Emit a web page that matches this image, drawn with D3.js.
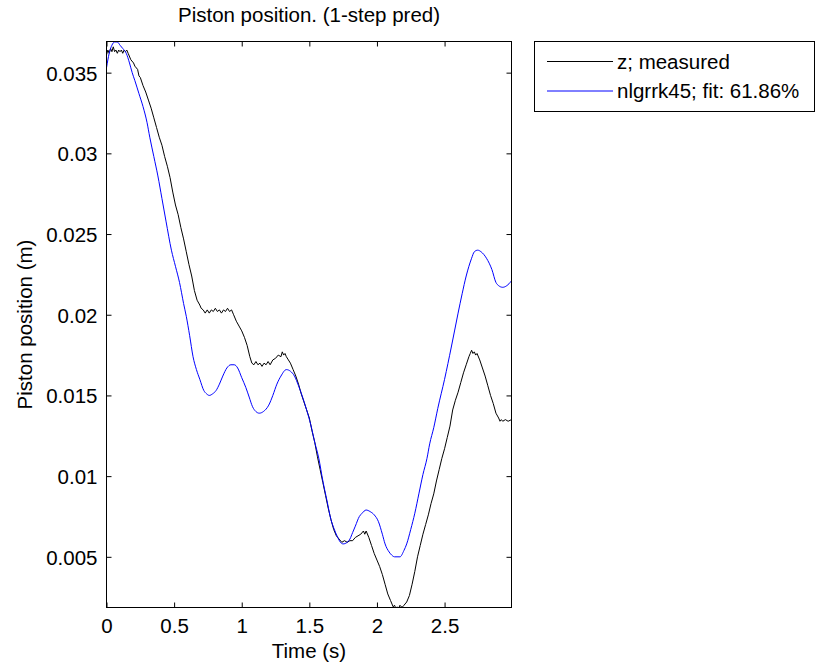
<!DOCTYPE html>
<html lang="en">
<head>
    <meta charset="UTF-8">
    <title>Piston position. (1-step pred)</title>
    <style>
        body {
            margin: 0;
            padding: 0;
            background: #fff;
        }
        svg text {
            font-family: Arial, "Liberation Sans", Helvetica, sans-serif;
            font-size: 20.5px;
            fill: #000;
        }
    </style>
</head>
<body>
    <div id="chart"></div>

    <script src="https://cdnjs.cloudflare.com/ajax/libs/d3/7.8.5/d3.min.js"></script>
    <script>
        // measured piston position
        const measuredTime = [
            0.000, 0.010, 0.020, 0.030, 0.040, 0.050, 0.060, 0.070, 0.080, 0.090,
            0.100, 0.110, 0.120, 0.130, 0.140, 0.150, 0.160, 0.180, 0.200, 0.210,
            0.230, 0.240, 0.250, 0.270, 0.290, 0.310, 0.330, 0.350, 0.370, 0.390,
            0.410, 0.430, 0.450, 0.470, 0.490, 0.510, 0.530, 0.550, 0.570, 0.590,
            0.610, 0.630, 0.650, 0.670, 0.690, 0.700, 0.715, 0.730, 0.745, 0.760,
            0.775, 0.790, 0.805, 0.820, 0.835, 0.850, 0.865, 0.880, 0.895, 0.910,
            0.925, 0.940, 0.960, 0.980, 1.000, 1.020, 1.040, 1.060, 1.075, 1.090,
            1.105, 1.120, 1.135, 1.150, 1.165, 1.180, 1.195, 1.210, 1.230, 1.250,
            1.270, 1.290, 1.300, 1.310, 1.320, 1.330, 1.345, 1.360, 1.380, 1.400,
            1.420, 1.440, 1.460, 1.480, 1.500, 1.520, 1.540, 1.560, 1.580, 1.600,
            1.620, 1.640, 1.660, 1.680, 1.700, 1.720, 1.740, 1.760, 1.780, 1.800,
            1.820, 1.840, 1.860, 1.880, 1.900, 1.910, 1.920, 1.940, 1.960, 1.980,
            2.000, 2.020, 2.040, 2.060, 2.080, 2.100, 2.120, 2.130, 2.140, 2.150,
            2.160, 2.170, 2.180, 2.190, 2.200, 2.220, 2.240, 2.260, 2.280, 2.300,
            2.320, 2.340, 2.360, 2.380, 2.400, 2.420, 2.440, 2.460, 2.480, 2.500,
            2.520, 2.540, 2.560, 2.580, 2.600, 2.620, 2.640, 2.660, 2.680, 2.690,
            2.700, 2.710, 2.720, 2.730, 2.740, 2.760, 2.780, 2.800, 2.820, 2.840,
            2.860, 2.880, 2.900, 2.910, 2.920, 2.930, 2.950, 2.970, 2.995
        ];
        const measuredZ = [
            0.0361, 0.0364, 0.0362, 0.0365, 0.0363, 0.0366, 0.0363, 0.0364, 0.0362, 0.0364,
            0.0363, 0.0364, 0.0362, 0.0364, 0.0363, 0.0364, 0.0362, 0.0358, 0.0356, 0.0354,
            0.0352, 0.0348, 0.0347, 0.0342, 0.0338, 0.0333, 0.0328, 0.0322, 0.0316, 0.0310,
            0.0305, 0.0298, 0.0292, 0.0285, 0.0276, 0.0268, 0.0262, 0.0254, 0.0247, 0.0239,
            0.0231, 0.0224, 0.0215, 0.0209, 0.0206, 0.0204, 0.0203, 0.0201, 0.0203, 0.0201,
            0.0203, 0.0202, 0.0204, 0.0202, 0.0203, 0.0201, 0.0203, 0.0202, 0.0204, 0.0202,
            0.0203, 0.0200, 0.0196, 0.0193, 0.0190, 0.0186, 0.0181, 0.0174, 0.0170, 0.0169,
            0.0171, 0.0169, 0.0170, 0.0168, 0.0170, 0.0169, 0.0171, 0.0169, 0.0172, 0.0173,
            0.0175, 0.0174, 0.0177, 0.0175, 0.0176, 0.0174, 0.0172, 0.0170, 0.0166, 0.0162,
            0.0157, 0.0151, 0.0146, 0.0141, 0.0136, 0.0128, 0.0121, 0.0112, 0.0104, 0.0096,
            0.0088, 0.0080, 0.0073, 0.0067, 0.0063, 0.0061, 0.0059, 0.0060, 0.0059, 0.0060,
            0.0060, 0.0062, 0.0063, 0.0064, 0.0066, 0.0064, 0.0066, 0.0062, 0.0057, 0.0052,
            0.0048, 0.0044, 0.0039, 0.0033, 0.0027, 0.0023, 0.0019, 0.0020, 0.0018, 0.0019,
            0.0018, 0.0020, 0.0019, 0.0019, 0.0020, 0.0022, 0.0026, 0.0033, 0.0041, 0.0050,
            0.0057, 0.0064, 0.0070, 0.0076, 0.0083, 0.0089, 0.0097, 0.0104, 0.0111, 0.0117,
            0.0124, 0.0131, 0.0141, 0.0147, 0.0152, 0.0158, 0.0164, 0.0169, 0.0174, 0.0176,
            0.0178, 0.0176, 0.0177, 0.0175, 0.0176, 0.0172, 0.0167, 0.0162, 0.0156, 0.0150,
            0.0145, 0.0139, 0.0136, 0.0134, 0.0135, 0.0134, 0.0135, 0.0134, 0.0135
        ];

        // nlgrrk45 model, 1-step prediction
        const predTime = [
            0.000, 0.020, 0.040, 0.060, 0.080, 0.100, 0.120, 0.146, 0.170, 0.190,
            0.210, 0.240, 0.270, 0.300, 0.320, 0.350, 0.380, 0.410, 0.440, 0.480,
            0.510, 0.540, 0.570, 0.590, 0.615, 0.640, 0.665, 0.690, 0.720, 0.740,
            0.760, 0.785, 0.810, 0.835, 0.860, 0.890, 0.920, 0.945, 0.970, 1.000,
            1.030, 1.055, 1.080, 1.105, 1.130, 1.160, 1.200, 1.230, 1.260, 1.290,
            1.330, 1.360, 1.390, 1.420, 1.450, 1.480, 1.510, 1.540, 1.570, 1.600,
            1.630, 1.660, 1.680, 1.710, 1.730, 1.750, 1.780, 1.800, 1.820, 1.840,
            1.870, 1.890, 1.920, 1.950, 1.980, 2.010, 2.040, 2.060, 2.090, 2.110,
            2.130, 2.170, 2.200, 2.220, 2.250, 2.280, 2.310, 2.340, 2.370, 2.390,
            2.420, 2.450, 2.500, 2.550, 2.600, 2.630, 2.660, 2.700, 2.720, 2.745,
            2.770, 2.810, 2.850, 2.880, 2.900, 2.930, 2.960, 2.995
        ];
        const predZ = [
            0.0353, 0.0362, 0.0367, 0.0369, 0.0369, 0.0367, 0.0365, 0.0362, 0.0356, 0.0350,
            0.0345, 0.0337, 0.0329, 0.0319, 0.0310, 0.0298, 0.0286, 0.0272, 0.0258, 0.0240,
            0.0230, 0.0220, 0.0207, 0.0199, 0.0187, 0.0174, 0.0166, 0.0160, 0.0153, 0.0151,
            0.0150, 0.0151, 0.0153, 0.0157, 0.0162, 0.0167, 0.0169, 0.0169, 0.0167, 0.0161,
            0.0155, 0.0149, 0.0143, 0.0140, 0.0139, 0.0140, 0.0144, 0.0150, 0.0157, 0.0162,
            0.0166, 0.0165, 0.0162, 0.0156, 0.0149, 0.0141, 0.0132, 0.0121, 0.0111, 0.0097,
            0.0085, 0.0073, 0.0068, 0.0062, 0.0059, 0.0058, 0.0059, 0.0061, 0.0065, 0.0069,
            0.0075, 0.0077, 0.0079, 0.0078, 0.0076, 0.0072, 0.0064, 0.0058, 0.0053, 0.0051,
            0.0050, 0.0050, 0.0054, 0.0058, 0.0067, 0.0077, 0.0089, 0.0101, 0.0111, 0.0120,
            0.0130, 0.0142, 0.0160, 0.0180, 0.0201, 0.0213, 0.0224, 0.0235, 0.0239, 0.0240,
            0.0239, 0.0235, 0.0228, 0.0220, 0.0218, 0.0217, 0.0218, 0.0221
        ];

        const xTicks = [0, 0.5, 1, 1.5, 2, 2.5];
        const yTicks = [0.005, 0.01, 0.015, 0.02, 0.025, 0.03, 0.035];
        const legendLabels = ["z; measured", "nlgrrk45; fit: 61.86%"];
        const seriesColors = ["#000000", "#0000ff"];

        const width = 817;
        const height = 670;
        const plot = { left: 106.5, right: 511.5, top: 41.5, bottom: 607.5 };
        const tickLen = 5;

        const svg = d3.select("#chart")
            .append("svg")
            .attr("width", width)
            .attr("height", height);

        const x = d3.scaleLinear()
            .domain([0, 2.995])
            .range([plot.left, plot.right]);

        const y = d3.scaleLinear()
            .domain([0.00186, 0.03693])
            .range([plot.bottom, plot.top]);

        svg.append("defs").append("clipPath")
            .attr("id", "plot-clip")
            .append("rect")
            .attr("x", plot.left)
            .attr("y", plot.top)
            .attr("width", plot.right - plot.left)
            .attr("height", plot.bottom - plot.top);

        // curves
        const line = d3.line()
            .x(d => x(d[0]))
            .y(d => y(d[1]));

        const series = [
            d3.zip(measuredTime, measuredZ),
            d3.zip(predTime, predZ)
        ];

        const lines = svg.append("g").attr("clip-path", "url(#plot-clip)");
        lines.append("path")
            .attr("d", line(series[0]))
            .attr("fill", "none")
            .attr("stroke", seriesColors[0])
            .attr("stroke-width", 1);
        lines.append("path")
            .attr("d", line.curve(d3.curveMonotoneX)(series[1]))
            .attr("fill", "none")
            .attr("stroke", seriesColors[1])
            .attr("stroke-width", 1);

        // axes box with inward ticks on all four sides
        const bottomAxis = d3.axisBottom(x).tickValues(xTicks).tickSize(-tickLen).tickPadding(11).tickFormat(d3.format("~g"));
        const topAxis = d3.axisTop(x).tickValues(xTicks).tickSize(-tickLen).tickFormat("");
        const leftAxis = d3.axisLeft(y).tickValues(yTicks).tickSize(-tickLen).tickPadding(9).tickFormat(d3.format("~g"));
        const rightAxis = d3.axisRight(y).tickValues(yTicks).tickSize(-tickLen).tickFormat("");

        const gx = svg.append("g").attr("transform", `translate(0,${plot.bottom})`).call(bottomAxis);
        svg.append("g").attr("transform", `translate(0,${plot.top})`).call(topAxis);
        const gy = svg.append("g").attr("transform", `translate(${plot.left},0)`).call(leftAxis);
        svg.append("g").attr("transform", `translate(${plot.right},0)`).call(rightAxis);

        svg.selectAll(".domain").remove();
        svg.selectAll(".tick line").attr("stroke", "#000");
        gx.selectAll("text").attr("font-size", null).attr("font-family", null).attr("dy", "0.71em");
        gy.selectAll("text").attr("font-size", null).attr("font-family", null).attr("dy", "0.36em");

        svg.append("rect")
            .attr("x", plot.left)
            .attr("y", plot.top)
            .attr("width", plot.right - plot.left)
            .attr("height", plot.bottom - plot.top)
            .attr("fill", "none")
            .attr("stroke", "#000")
            .attr("stroke-width", 1);

        // titles
        svg.append("text")
            .attr("x", (plot.left + plot.right) / 2)
            .attr("y", 22)
            .attr("text-anchor", "middle")
            .text("Piston position. (1-step pred)");

        svg.append("text")
            .attr("x", (plot.left + plot.right) / 2)
            .attr("y", 658)
            .attr("text-anchor", "middle")
            .text("Time (s)");

        svg.append("text")
            .attr("transform", `translate(32,${(plot.top + plot.bottom) / 2}) rotate(-90)`)
            .attr("text-anchor", "middle")
            .text("Piston position (m)");

        // legend
        const legend = svg.append("g");
        legend.append("rect")
            .attr("x", 534.5)
            .attr("y", 41.5)
            .attr("width", 280)
            .attr("height", 70)
            .attr("fill", "#fff")
            .attr("stroke", "#000");

        legendLabels.forEach((label, i) => {
            const ly = 61.5 + i * 29.5;
            legend.append("line")
                .attr("x1", 547).attr("x2", 613)
                .attr("y1", ly).attr("y2", ly)
                .attr("stroke", seriesColors[i]);
            legend.append("text")
                .attr("x", 617)
                .attr("y", ly)
                .attr("dy", "0.36em")
                .text(label);
        });
    </script>
</body>
</html>
